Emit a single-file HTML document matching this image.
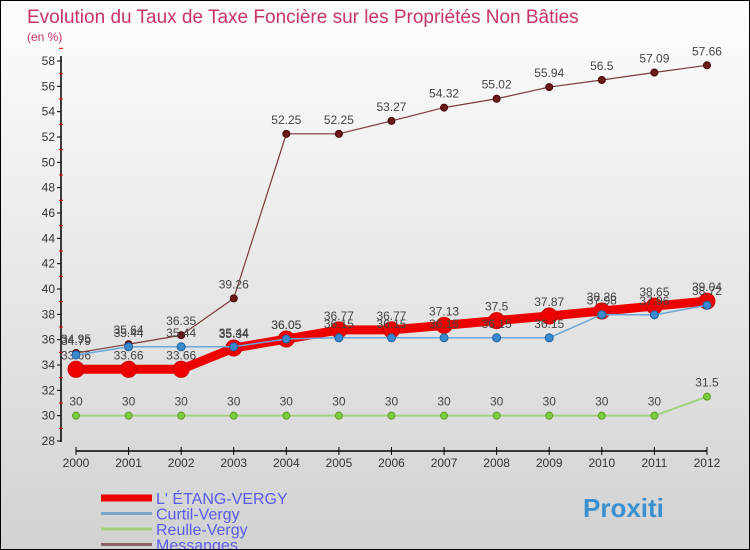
<!DOCTYPE html>
<html><head><meta charset="utf-8"><style>
body{margin:0}
#c{width:750px;height:550px;position:relative;overflow:hidden;background:linear-gradient(#fdfdfd,#d2d2d2);border:1px solid #000;box-sizing:border-box;font-family:"Liberation Sans",sans-serif}
text{font-family:"Liberation Sans",sans-serif}
</style></head><body>
<div id="c">
<svg id="s" width="750" height="550">
<text x="26" y="22" font-size="19" fill="#c8336a">Evolution du Taux de Taxe Foncière sur les Propriétés Non Bâties</text>
<text x="26" y="40" font-size="12" fill="#c8336a">(en %)</text>
<g id="g"></g>
</svg>
</div>
<script>
const years=[2000,2001,2002,2003,2004,2005,2006,2007,2008,2009,2010,2011,2012];
const etang=[33.66,33.66,33.66,35.34,36.05,36.77,36.77,37.13,37.5,37.87,38.26,38.65,39.04];
const curtil=[34.79,35.44,35.44,35.44,36.05,36.15,36.15,36.15,36.15,36.15,37.98,37.96,38.72];
const reulle=[30,30,30,30,30,30,30,30,30,30,30,30,31.5];
const messanges=[34.95,35.64,36.35,39.26,52.25,52.25,53.27,54.32,55.02,55.94,56.5,57.09,57.66];
const yTicks=[28,30,32,34,36,38,40,42,44,46,48,50,52,54,56,58];
const NS="http://www.w3.org/2000/svg";
const g=document.getElementById('g');
const X=i=>75+i*52.58;
const Y=v=>440-(v-28)*12.667;
function el(t,a){const e=document.createElementNS(NS,t);for(const k in a)e.setAttribute(k,a[k]);g.appendChild(e);return e;}
let e;
e=el('line',{x1:60,y1:55,x2:60,y2:441,stroke:'#000','stroke-width':1.5});


e=el('line',{x1:75,y1:450,x2:706,y2:450,stroke:'#000','stroke-width':1.5});


yTicks.forEach(v=>{
 e=el('line',{x1:56,y1:Y(v),x2:60,y2:Y(v),stroke:'#000'});
 
 
 e=el('line',{x1:58,y1:Y(v+1),x2:62,y2:Y(v+1),stroke:'#e00'});
 
 
 e=el('text',{x:54,y:Y(v)+4,'font-size':12,fill:'#333','text-anchor':'end'});
 e.textContent=v;
 
 
});
years.forEach((y,i)=>{
 e=el('line',{x1:X(i),y1:446,x2:X(i),y2:454,stroke:'#000'});
 
 
 e=el('text',{x:X(i),y:466,'font-size':12,fill:'#333','text-anchor':'middle'});
 e.textContent=y;
 
 
});
function series(d,name,col,w,r,dot,stroke){
 e=el('polyline',{points:d.map((v,i)=>X(i)+','+Y(v)).join(' '),fill:'none',stroke:col,'stroke-width':w,'stroke-linejoin':'round'});
 
 
 d.forEach((v,i)=>{
  e=el('circle',{cx:X(i),cy:Y(v),r:r,fill:dot,stroke:stroke,'stroke-width':1});
  
  
  e=el('text',{x:X(i),y:Y(v)-10,'font-size':12,fill:'#444','text-anchor':'middle'});
  e.textContent=v;
  
  
 });
}
series(messanges,'messanges','#7a3a3a',1.2,3.5,'#6a1a1a','#400');
series(reulle,'reulle-vergy','#9fd27a',2,3.5,'#7ccf3c','#5a9a2a');
series(etang,'etang-vergy','#ee0000',9,8,'#ee0000','#c00');
series(curtil,'curtil-vergy','#6aa6d8',1.5,4,'#3a8ad0','#2060a0');
const legend=[['L\' ÉTANG-VERGY','#ee0000',7],['Curtil-Vergy','#7aa6c8',3],['Reulle-Vergy','#9fd27a',3],['Messanges','#8a6060',3]];
legend.forEach((l,i)=>{
 const y=497+i*15.5;
 e=el('line',{x1:100,y1:y,x2:151,y2:y,stroke:l[1],'stroke-width':l[2]});
 
 
 e=el('text',{x:155,y:y+6,'font-size':16,fill:'#5a5aee'});
 e.textContent=l[0];
 
 
});
e=el('text',{x:582,y:516,'font-size':26,'font-weight':'bold',fill:'#3a90d0'});
e.textContent='Proxiti';


</script>
</body></html>
